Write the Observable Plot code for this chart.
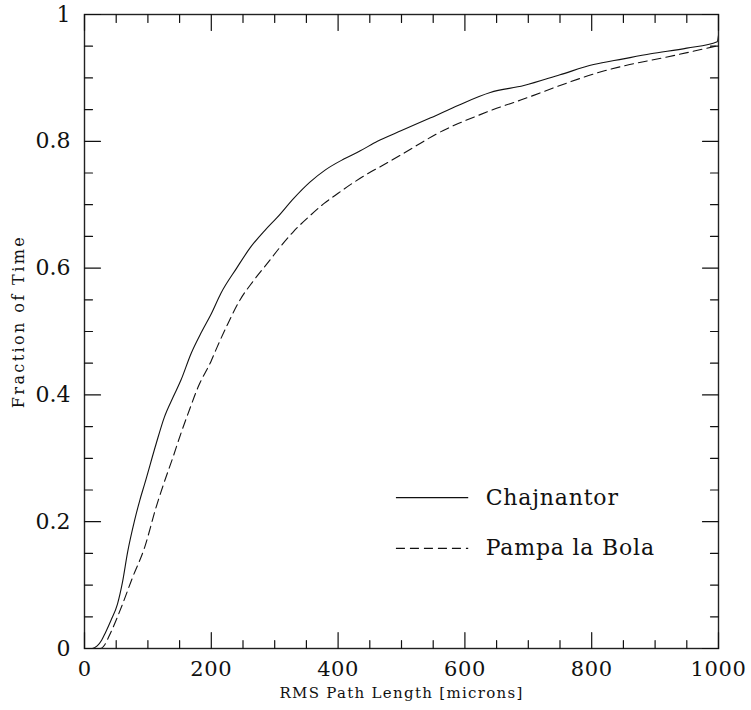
<!DOCTYPE html>
<html>
<head>
<meta charset="utf-8">
<script src="https://cdn.jsdelivr.net/npm/d3@7"></script>
<script src="https://cdn.jsdelivr.net/npm/@observablehq/plot@0.6"></script>
<style>
  body { margin: 0; background: #fff; }
  #chart svg { display: block; }
</style>
</head>
<body>
<div id="chart"></div>
<script>
// RMS path length [microns] and cumulative fraction of time
const chajX = [0, 12, 20, 27, 33, 42, 52, 60, 68, 79, 87, 95, 113, 126, 140, 152, 168, 185, 200, 215, 240, 262, 285, 304, 330, 356, 380, 409, 435, 462, 500, 546, 590, 640, 693, 750, 803, 850, 893, 950, 998, 1000];
const chajY = [0, 0, 0.004, 0.013, 0.025, 0.045, 0.07, 0.105, 0.152, 0.202, 0.233, 0.26, 0.323, 0.365, 0.397, 0.423, 0.465, 0.50, 0.528, 0.56, 0.600, 0.633, 0.66, 0.68, 0.71, 0.736, 0.755, 0.772, 0.785, 0.80, 0.817, 0.837, 0.857, 0.877, 0.888, 0.905, 0.921, 0.930, 0.938, 0.947, 0.957, 0.967];

const pampaX = [0, 25, 32, 39, 50, 60, 75, 95, 113, 125, 139, 152, 165, 179, 200, 209, 225, 246, 265, 288, 310, 330, 355, 378, 400, 420, 445, 472, 500, 530, 556, 585, 614, 650, 688, 750, 809, 860, 919, 960, 1000];
const pampaY = [0, 0, 0.006, 0.02, 0.045, 0.07, 0.11, 0.16, 0.223, 0.26, 0.30, 0.339, 0.375, 0.412, 0.454, 0.475, 0.51, 0.551, 0.578, 0.607, 0.635, 0.658, 0.682, 0.702, 0.718, 0.732, 0.748, 0.763, 0.779, 0.797, 0.812, 0.826, 0.838, 0.852, 0.865, 0.888, 0.908, 0.921, 0.933, 0.942, 0.951];

const seriesNames = ["Chajnantor", "Pampa la Bola"];
const xMajorTicks = [0, 200, 400, 600, 800, 1000];
const xMinorTicks = [50, 100, 150, 250, 300, 350, 450, 500, 550, 650, 700, 750, 850, 900, 950];
const yMajorTicks = [0, 0.2, 0.4, 0.6, 0.8, 1];
const yMinorTicks = [0.05, 0.1, 0.15, 0.25, 0.3, 0.35, 0.45, 0.5, 0.55, 0.65, 0.7, 0.75, 0.85, 0.9, 0.95];
const xLabel = "RMS Path Length [microns]";
const yLabel = "Fraction of Time";

const chaj = chajX.map((x, i) => ({x, y: chajY[i]}));
const pampa = pampaX.map((x, i) => ({x, y: pampaY[i]}));

const FONT = "'DejaVu Serif', serif";
const MAJ = 16, MIN = 8;
const DASH = "9,5";

// legend placement (data coordinates)
const legendSolid = [{name: seriesNames[0], x1: 492, x2: 606, y: 0.238}];
const legendDash = [{name: seriesNames[1], x1: 492, x2: 606, y: 0.158}];
const legend = legendSolid.concat(legendDash);

const tickOpts = (extra) => Object.assign({r: 0, anchor: "start", stroke: "#111", strokeWidth: 1.2}, extra);

const plot = Plot.plot({
  width: 751,
  height: 710,
  marginLeft: 84,
  marginRight: 33,
  marginTop: 14,
  marginBottom: 62,
  style: {fontFamily: FONT, background: "#fff", color: "#111"},
  x: {domain: [0, 1000]},
  y: {domain: [0, 1]},
  marks: [
    // curves
    Plot.line(chaj, {x: "x", y: "y", stroke: "#111", strokeWidth: 1.1, curve: "monotone-x"}),
    Plot.line(pampa, {x: "x", y: "y", stroke: "#111", strokeWidth: 1.1, curve: "monotone-x", strokeDasharray: DASH}),
    // frame
    Plot.frame({stroke: "#222", strokeWidth: 1.4}),
    // inward ticks: bottom
    Plot.vector(xMajorTicks, tickOpts({x: d => d, y: 0, length: MAJ, rotate: 0})),
    Plot.vector(xMinorTicks, tickOpts({x: d => d, y: 0, length: MIN, rotate: 0})),
    // top
    Plot.vector(xMajorTicks, tickOpts({x: d => d, y: 1, length: MAJ, rotate: 180})),
    Plot.vector(xMinorTicks, tickOpts({x: d => d, y: 1, length: MIN, rotate: 180})),
    // left
    Plot.vector(yMajorTicks, tickOpts({x: 0, y: d => d, length: MAJ, rotate: 90})),
    Plot.vector(yMinorTicks, tickOpts({x: 0, y: d => d, length: MIN, rotate: 90})),
    // right
    Plot.vector(yMajorTicks, tickOpts({x: 1000, y: d => d, length: MAJ, rotate: -90})),
    Plot.vector(yMinorTicks, tickOpts({x: 1000, y: d => d, length: MIN, rotate: -90})),
    // tick labels
    Plot.axisX(xMajorTicks, {tickSize: 0, tickPadding: 13, fontSize: 21, label: null, tickFormat: d3.format("d"), fill: "#111"}),
    Plot.axisY(yMajorTicks, {tickSize: 0, tickPadding: 14, fontSize: 22, label: null, tickFormat: d3.format(""), fill: "#111"}),
    // axis titles
    Plot.text([xLabel], {text: d => d, frameAnchor: "bottom", dy: 49, fontSize: 15, fill: "#111"}),
    Plot.text([yLabel], {text: d => d, frameAnchor: "left", textAnchor: "middle", dx: -66, dy: -10, rotate: -90, fontSize: 16, fill: "#111"}),
    // legend
    Plot.ruleY(legendSolid, {y: "y", x1: "x1", x2: "x2", stroke: "#111", strokeWidth: 1.1}),
    Plot.ruleY(legendDash, {y: "y", x1: "x1", x2: "x2", stroke: "#111", strokeWidth: 1.1, strokeDasharray: DASH}),
    Plot.text(legend, {x: "x2", y: "y", text: "name", textAnchor: "start", dx: 17, fontSize: 22, fill: "#111"})
  ]
});

// widen the Hershey-like lettering a little
d3.select(plot).selectAll("text").each(function () {
  const t = this.textContent;
  if (t === xLabel) this.setAttribute("letter-spacing", "1.3");
  else if (t === yLabel) this.setAttribute("letter-spacing", "2.4");
  else if (seriesNames.includes(t)) this.setAttribute("letter-spacing", "0.8");
  else if (/^\d+$/.test(t) && t.length > 1) this.setAttribute("letter-spacing", "0.6");
});

document.getElementById("chart").appendChild(plot);
</script>
</body>
</html>
